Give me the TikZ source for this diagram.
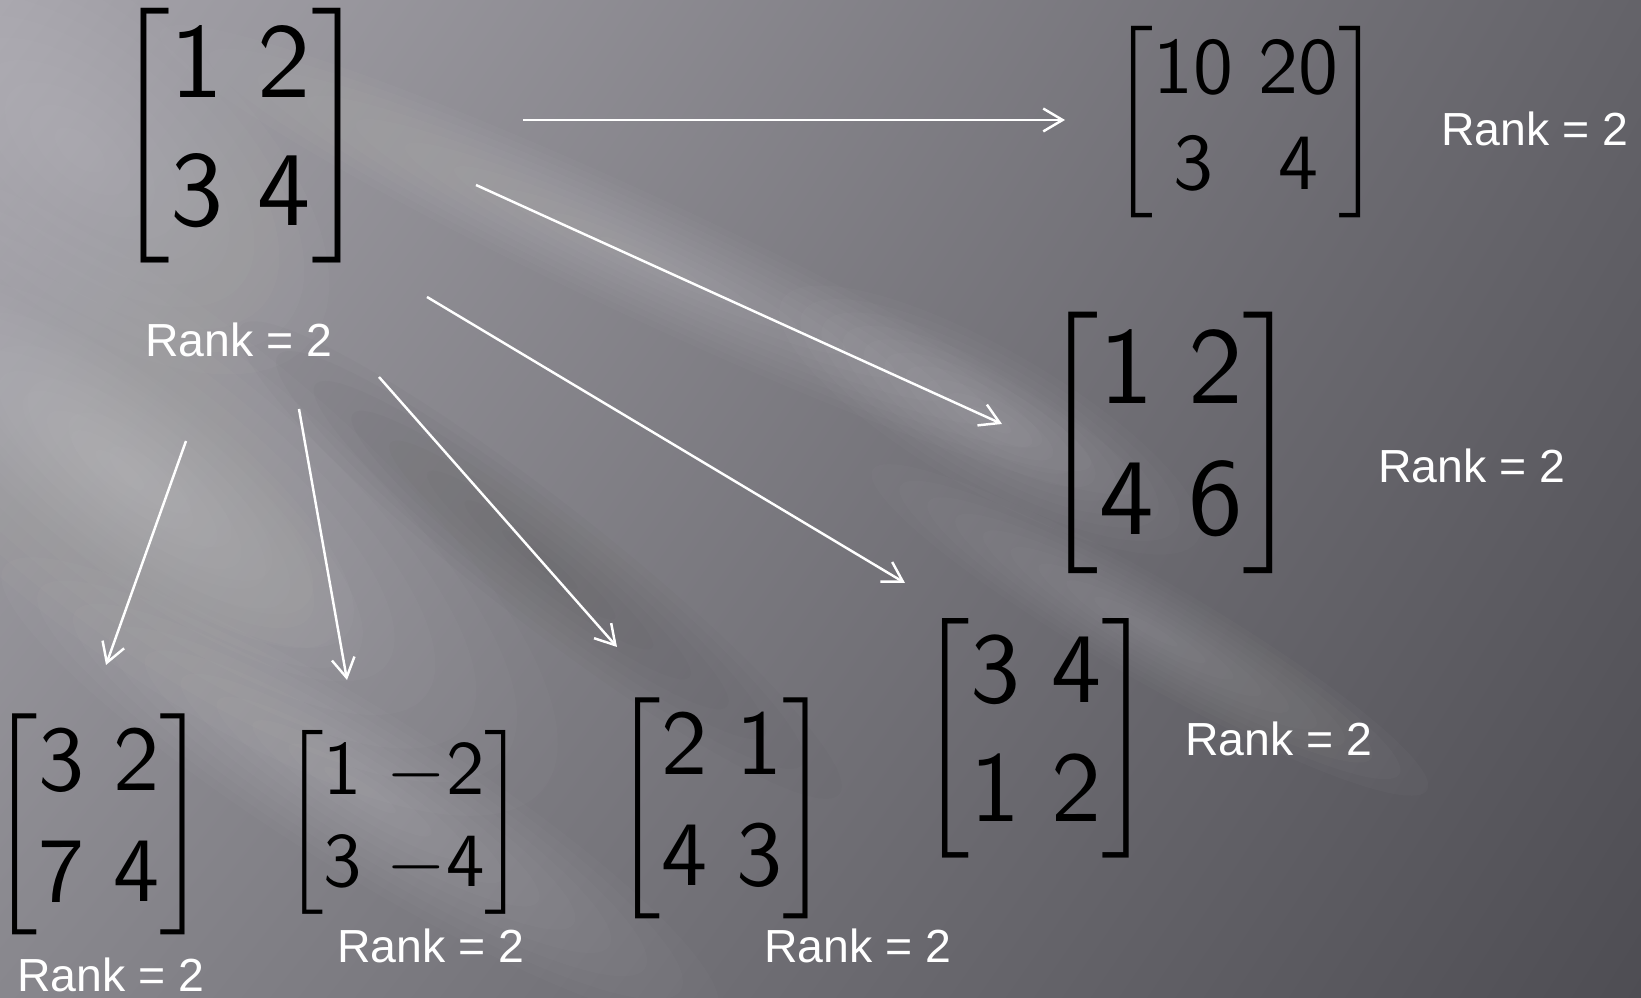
\documentclass[tikz,border=0pt]{standalone}
\usepackage{amsmath}
\usepackage{fontspec}
\newfontfamily\rankfont{Liberation Sans}
\usetikzlibrary{arrows.meta,shadings}
\setlength{\arraycolsep}{1.6pt}
\definecolor{bgul}{RGB}{166,164,171}
\definecolor{bgur}{RGB}{100,99,105}
\definecolor{bgll}{RGB}{136,135,141}
\definecolor{bglr}{RGB}{78,77,83}
\newcommand{\mtx}[4]{$\begin{bmatrix}\mathsf{#1}&\mathsf{#2}\\\mathsf{#3}&\mathsf{#4}\end{bmatrix}$}
\tikzset{
  mat/.style={inner sep=0pt, text=black},
  rank/.style={inner sep=0pt, text=white, font=\rankfont\fontsize{13.2}{15}\selectfont},
  arr/.style={draw=white, line width=0.7pt, -{Straight Barb[length=5.5pt,width=6.5pt]}}
}
\begin{document}
\begin{tikzpicture}[x=0.01cm, y=-0.01cm]
  \useasboundingbox (0,0) rectangle (1641,998);
  % background
  \shade[upper left=bgul, upper right=bgur, lower left=bgll, lower right=bglr] (0,0) rectangle (1641,998);
  % light streaks
  \begin{scope}
    \clip (0,0) rectangle (1641,998);
    \foreach \cx/\cy/\rx/\ry/\ang in {80/150/300/150/-40, 150/480/500/170/-38, 120/470/300/90/-38,
                                      650/260/540/60/-25, 990/420/240/70/-30, 360/790/420/80/-32,
                                      1150/630/320/50/-30}{
      \foreach \k in {1,...,10}{
        \fill[white, opacity=0.018] (\cx,\cy) ellipse [x radius=\rx*\k/10, y radius=\ry*\k/10, rotate=\ang];
      }
    }
    \foreach \cx/\cy/\rx/\ry/\ang in {540/560/380/60/-38}{
      \foreach \k in {1,...,8}{
        \fill[black, opacity=0.015] (\cx,\cy) ellipse [x radius=\rx*\k/8, y radius=\ry*\k/8, rotate=\ang];
      }
    }
  \end{scope}
  % matrices and ranks
  \node[mat, scale=3.02] (m0) at (241,136) {\mtx{1}{2}{3}{4}};
  \node[rank] (r0) at (239,340) {Rank = 2};
  \node[mat, scale=2.27] (m1) at (1246,122) {\mtx{10}{20}{3}{4}};
  \node[rank] (r1) at (1535,129) {Rank = 2};
  \node[mat, scale=3.10] (m2) at (1171,443) {\mtx{1}{2}{4}{6}};
  \node[rank] (r2) at (1472,466) {Rank = 2};
  \node[mat, scale=2.84] (m3) at (1036,738) {\mtx{3}{4}{1}{2}};
  \node[rank] (r3) at (1279,739) {Rank = 2};
  \node[mat, scale=2.62] (m4) at (722,808) {\mtx{2}{1}{4}{3}};
  \node[rank] (r4) at (858,946) {Rank = 2};
  \node[mat, scale=2.18] (m5) at (404,822) {\mtx{1}{-2}{3}{-4}};
  \node[rank] (r5) at (431,946) {Rank = 2};
  \node[mat, scale=2.62] (m6) at (99,824) {\mtx{3}{2}{7}{4}};
  \node[rank] (r6) at (111,975) {Rank = 2};
  % arrows
  \foreach \n/\sx/\sy/\ex/\ey in {1/523/120/1065/120, 2/476/185/1002/424, 3/427/297/905/583,
                                  4/379/377/617/647, 5/299/409/347/680, 6/186/441/106/665}{
    \coordinate (s\n) at (\sx,\sy);
    \coordinate (e\n) at (\ex,\ey);
    \draw[arr] (s\n) -- (e\n);
  }
\end{tikzpicture}
\end{document}
